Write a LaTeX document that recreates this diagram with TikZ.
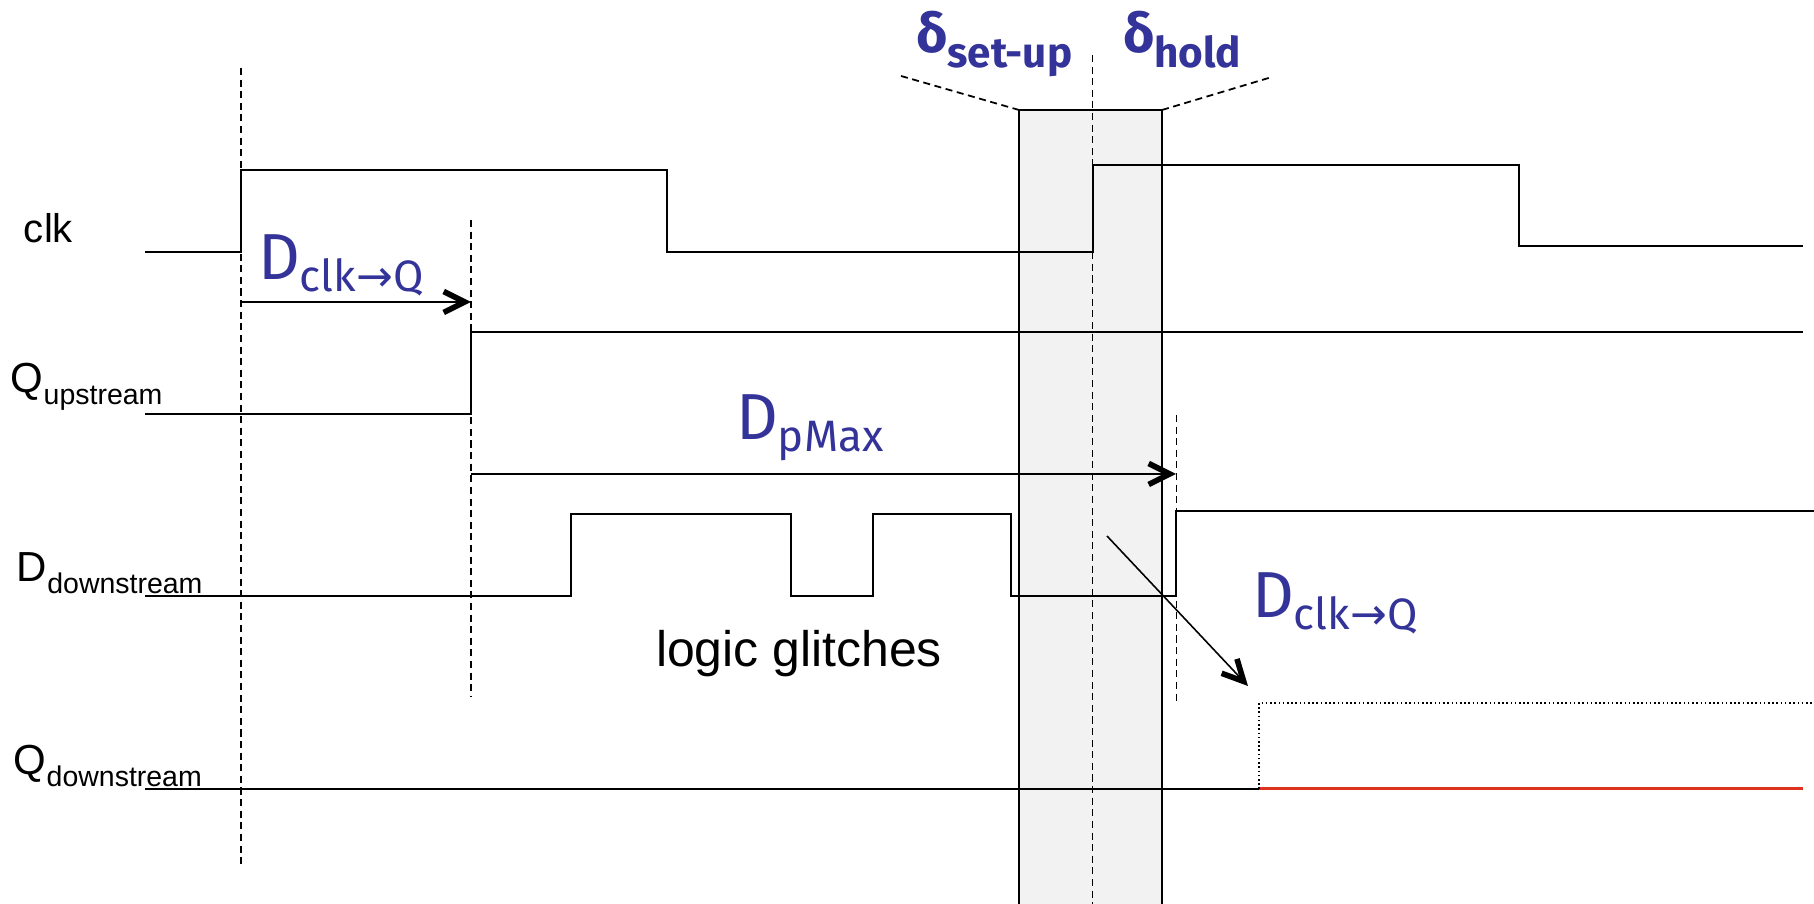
\documentclass[tikz,border=0pt]{standalone}
\usepackage{fontspec}
\setmainfont{Liberation Sans}
\newfontfamily\handfont{Fira Sans}
\newfontfamily\arrfont{DejaVu Sans}
\usetikzlibrary{arrows.meta}
\definecolor{lblblue}{RGB}{51,51,153}
\definecolor{boxgray}{RGB}{242,242,242}
\definecolor{sigred}{RGB}{220,50,30}
\newcommand\signame[2]{\fontsize{11.95pt}{12pt}\selectfont #1\raisebox{-0.12cm}{\fontsize{8.1pt}{8pt}\selectfont #2}}
\newcommand\bigD[1]{\handfont\fontsize{18.5pt}{19pt}\selectfont D\raisebox{-0.12cm}{\fontsize{12.5pt}{12pt}\selectfont #1}}
\newcommand\deltalbl[1]{\handfont\bfseries\fontsize{15.5pt}{15pt}\selectfont δ\raisebox{-0.15cm}{\fontsize{12pt}{12pt}\selectfont #1}}
\begin{document}
\begin{tikzpicture}[x=0.01cm,y=-0.01cm,
  wave/.style={line width=0.6pt},
  guide/.style={line width=0.5pt, dash pattern=on 2pt off 1.3pt},
  dotwave/.style={line width=0.6pt, dash pattern=on 0.45pt off 0.75pt},
  barb/.style={line width=0.6pt,-{Straight Barb[length=2.1mm,width=2.1mm,line width=1.6pt]}},
  txt/.style={inner sep=0pt, outer sep=0pt, anchor=base west},
  blue/.style={txt, text=lblblue}]
\useasboundingbox (0,0) rectangle (1814,904);

% set-up / hold window
\fill[boxgray] (1019,110) rectangle (1162,904);
\draw[wave] (1019,904) -- (1019,110) -- (1162,110) -- (1162,904);

% guide lines
\draw[guide] (241,68) -- (241,865);
\draw[guide] (471,220) -- (471,697);
\draw[guide] (1092.5,55) -- (1092.5,904);
\draw[guide] (1176.5,415) -- (1176.5,702);
\draw[guide] (901,76) -- (1019,110);
\draw[guide] (1162,110) -- (1272,77);

% waveforms
\draw[wave] (145,252) -- (241,252) -- (241,170) -- (667,170) -- (667,252) -- (1093,252)
  -- (1093,165) -- (1519,165) -- (1519,246) -- (1803,246);
\draw[wave] (145,414) -- (471,414) -- (471,332) -- (1803,332);
\draw[wave] (145,596) -- (571,596) -- (571,514) -- (791,514) -- (791,596) -- (873,596)
  -- (873,514) -- (1011,514) -- (1011,596) -- (1176,596) -- (1176,511) -- (1814,511);
\draw[wave] (145,789) -- (1259,789);
\draw[line width=0.85pt, sigred] (1259,789) -- (1803,789);
\draw[dotwave] (1259,789) -- (1259,703) -- (1814,703);

% signal names
\node[txt] (clk) at (24,243) {\fontsize{11.4pt}{12pt}\selectfont clk};
\node[txt] (qup) at (11,393) {\signame{Q}{upstream}};
\node[txt] (ddown) at (17,582) {\signame{D}{downstream}};
\node[txt] (qdown) at (14,775) {\signame{Q}{downstream}};
\node[txt] (glitch) at (656,667) {\fontsize{14.2pt}{15pt}\selectfont logic glitches};

% timing labels
\node[blue] (dcq1) at (258,280) {\bigD{clk{\arrfont →}Q}};
\node[blue] (dpmax) at (736,440) {\bigD{pMax}};
\node[blue] (dcq2) at (1252,618) {\bigD{clk{\arrfont →}Q}};
\node[blue] (dsetup) at (916,53) {\deltalbl{set-up}};
\node[blue] (dhold) at (1123,53) {\deltalbl{hold}};

% arrows
\coordinate (a1s) at (241,302);
\coordinate (a1e) at (471,302);
\coordinate (a2s) at (471,474);
\coordinate (a2e) at (1176,474);
\coordinate (a3s) at (1107,536);
\coordinate (a3e) at (1248,686);
\draw[barb] (a1s) -- (a1e);
\draw[barb] (a2s) -- (a2e);
\draw[barb, line width=0.45pt] (a3s) -- (a3e);
\end{tikzpicture}
\end{document}
